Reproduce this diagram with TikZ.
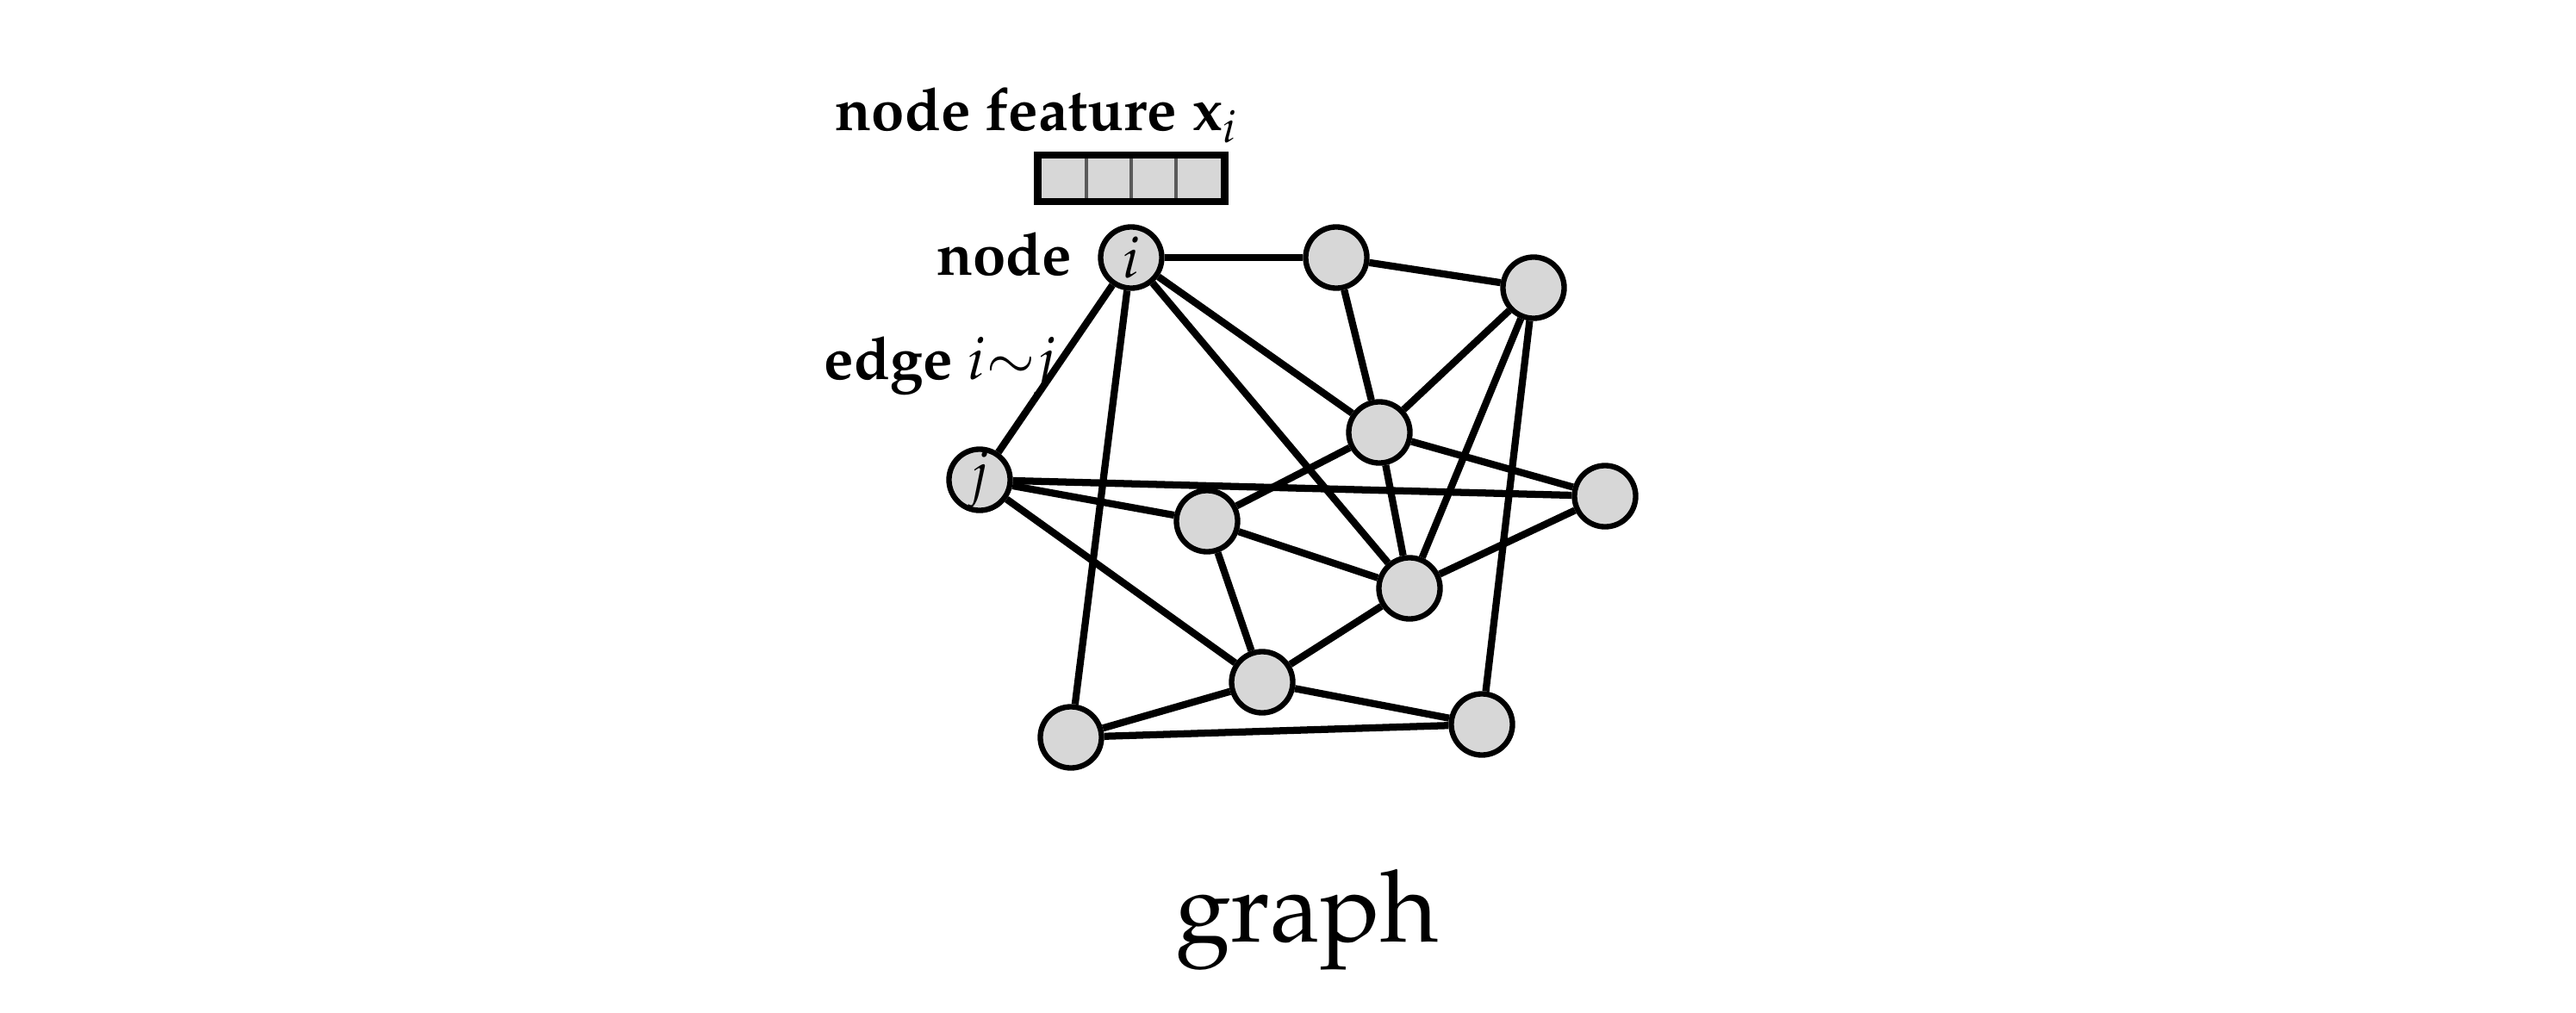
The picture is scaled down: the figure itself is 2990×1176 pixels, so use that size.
\documentclass[tikz,border=0pt]{standalone}
\usepackage[T1]{fontenc}
\usepackage{mathpazo}
\usetikzlibrary{backgrounds}
\definecolor{nodegray}{RGB}{215,215,215}
\definecolor{divgray}{RGB}{90,90,90}
\tikzset{
  vert/.style={circle, draw=black, fill=nodegray, line width=1.8pt, minimum size=0.71cm, inner sep=0pt, font=\fontsize{19}{22}\selectfont},
  edg/.style={line width=2.35pt},
  lbl/.style={font=\fontsize{19.6}{24}\selectfont\bfseries, inner sep=0pt}
}
\begin{document}
\begin{tikzpicture}[x=0.01cm, y=-0.01cm]
\useasboundingbox (0,0) rectangle (2990,1176);
% nodes
\node[vert] (i)  at (1313,299) {$i$};
\node[vert] (n2) at (1551,299) {};
\node[vert] (n3) at (1780,334) {};
\node[vert] (c)  at (1601,502) {};
\node[vert] (r)  at (1863,576) {};
\node[vert] (j)  at (1137,557) {$j$};
\node[vert] (m)  at (1401,605) {};
\node[vert] (cm) at (1636,683) {};
\node[vert] (b)  at (1465,792) {};
\node[vert] (bl) at (1243,856) {};
\node[vert] (br) at (1720,841) {};
% edges
\begin{scope}[on background layer]
\draw[edg] (i) -- (n2);
\draw[edg] (n2) -- (n3);
\draw[edg] (i) -- (j);
\draw[edg] (i) -- (bl);
\draw[edg] (i) -- (cm);
\draw[edg] (i) -- (c);
\draw[edg] (n2) -- (c);
\draw[edg] (n3) -- (c);
\draw[edg] (n3) -- (cm);
\draw[edg] (n3) -- (br);
\draw[edg] (c) -- (m);
\draw[edg] (c) -- (r);
\draw[edg] (c) -- (cm);
\draw[edg] (j) -- (r);
\draw[edg] (j) -- (m);
\draw[edg] (j) -- (b);
\draw[edg] (m) -- (cm);
\draw[edg] (m) -- (b);
\draw[edg] (cm) -- (r);
\draw[edg] (cm) -- (b);
\draw[edg] (b) -- (bl);
\draw[edg] (b) -- (br);
\draw[edg] (bl) -- (br);
\end{scope}
% feature vector
\fill[nodegray] (1204.5,180) rectangle (1421.5,234);
\foreach \xx in {1261,1313,1365} \draw[divgray, line width=0.9pt] (\xx,180) -- (\xx,234);
\draw[line width=2.5pt] (1204.5,180) rectangle (1421.5,234);
% labels
\node[lbl, anchor=base west] (featlbl) at (969,152) {node feature $\mathbf{x}_i$};
\node[lbl, anchor=base east] (nodelbl) at (1245,320) {node};
\node[lbl, anchor=base west] (edgelbl) at (956,440) {edge $i{\sim}j$};
\node[font=\fontsize{33}{38}\selectfont, inner sep=0pt, anchor=base] (title) at (1517,1093) {graph};
\end{tikzpicture}
\end{document}
